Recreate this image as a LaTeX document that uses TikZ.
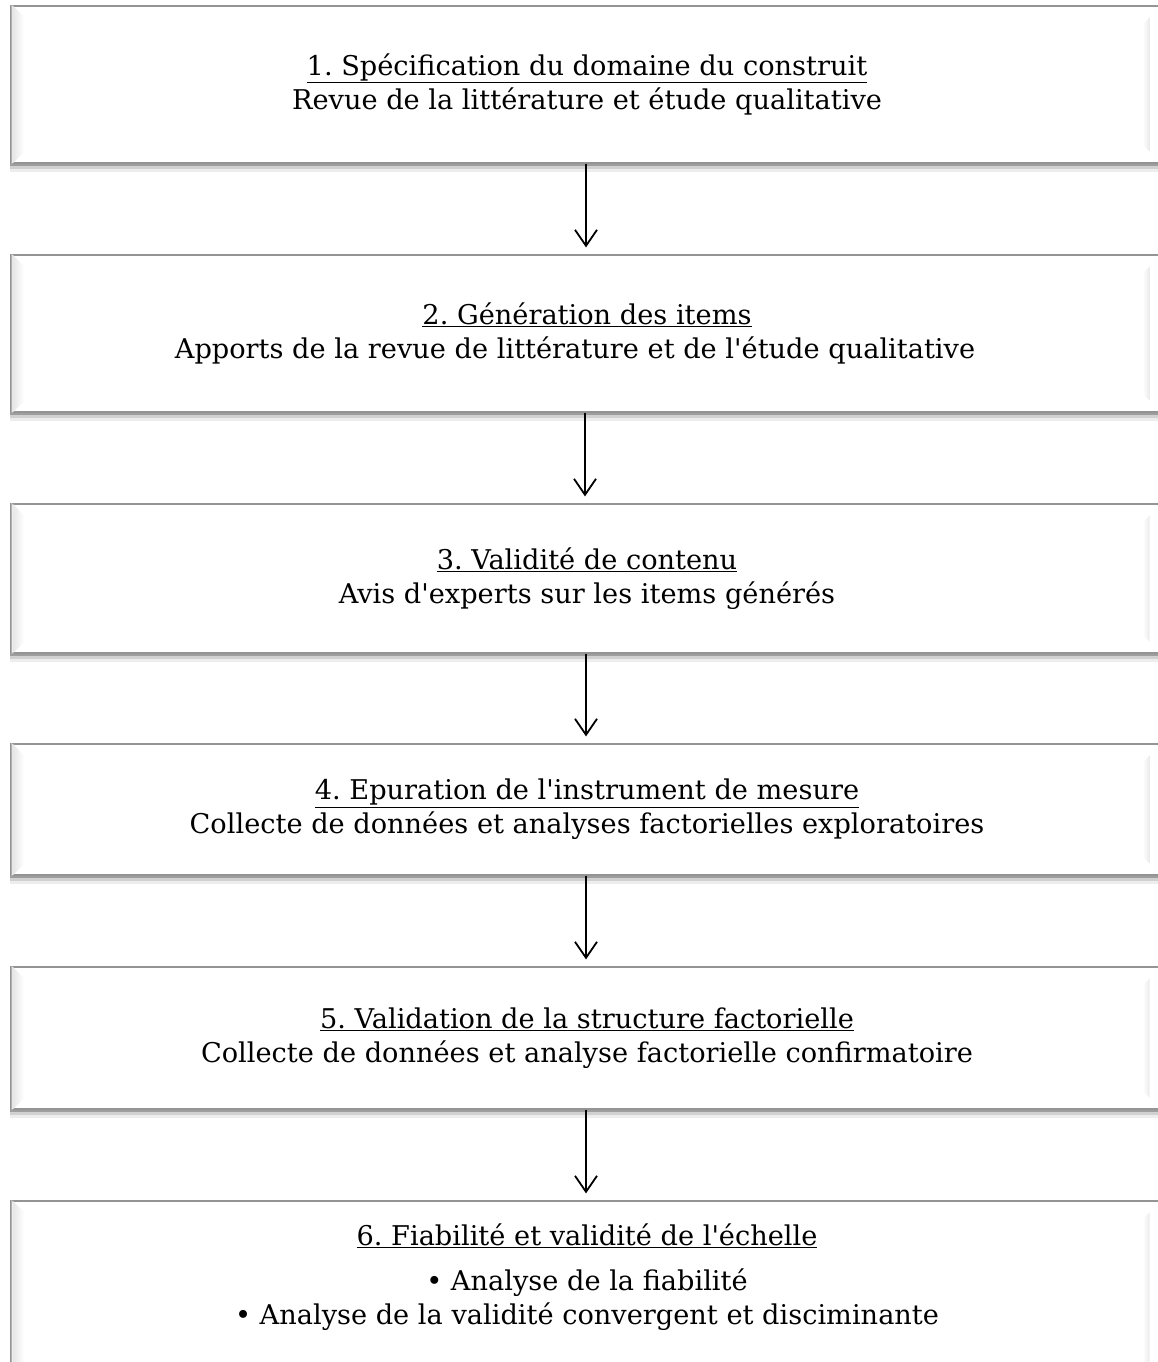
\documentclass[tikz,border=0pt]{standalone}
\usepackage{fontspec}
\setmainfont{DejaVu Serif}
\usetikzlibrary{arrows.meta}
\frenchspacing
\newcommand{\apos}{\textquotesingle}
\tikzset{
  stepbox/.style={draw=black!42, line width=1.2pt, fill=white, minimum width=1152pt,
    minimum height=#1, inner sep=0pt, align=center, font=\fontsize{27.2}{34}\selectfont},
  flow/.style={draw=black, line width=1.8pt, -{Straight Barb[length=16pt,width=22pt,line width=1.8pt]}, shorten >=7pt},
  shadowA/.style={fill=black!38},
  shadowB/.style={fill=black!18},
  shadowC/.style={fill=black!7},
}
\begin{document}
\begin{tikzpicture}[x=1pt,y=-1pt]
\useasboundingbox (0,0) rectangle (1157,1362);
\node[stepbox=157pt] (b1) at (587,84.5) {\underline{1. Spécification du domaine du construit}\\Revue de la littérature et étude qualitative};
\node[stepbox=157pt] (b2) at (587,333.5) {\underline{2. Génération des items}\\Apports de la revue de littérature et de l\apos étude qualitative\hspace*{24pt}};
\node[stepbox=149pt] (b3) at (587,578.5) {\underline{3. Validité de contenu}\\Avis d\apos experts sur les items générés};
\node[stepbox=131pt] (b4) at (587,809.5) {\underline{4. Epuration de l\apos instrument de mesure}\\Collecte de données et analyses factorielles exploratoires};
\node[stepbox=142pt] (b5) at (587,1038) {\underline{5. Validation de la structure factorielle}\\Collecte de données et analyse factorielle confirmatoire};
\node[stepbox=200pt] (b6) at (587,1301) {};
\node[align=center, font=\fontsize{27.2}{34}\selectfont, inner sep=0pt] (t6) at (587,1277)
  {\underline{6. Fiabilité et validité de l\apos échelle}\\[11pt]\textbullet\ Analyse de la fiabilité\\\textbullet\ Analyse de la validité convergent et disciminante};
\foreach \b in {b1,b2,b3,b4,b5}{
  \fill[shadowA] ([yshift=-0.6pt]\b.south west) rectangle ([yshift=-2.5pt]\b.south east);
  \fill[shadowB] ([yshift=-2.5pt]\b.south west) rectangle ([yshift=-5pt]\b.south east);
  \fill[shadowC] ([yshift=-5pt]\b.south west) rectangle ([yshift=-8pt]\b.south east);
}
\foreach \b in {b1,b2,b3,b4,b5,b6}{
  \fill[black!30] ([xshift=0.6pt]\b.north west) rectangle ([xshift=2pt]\b.south west);
  \shade[left color=black!10, right color=white]
    ([xshift=2pt]\b.north west) -- ([xshift=14pt,yshift=-12pt]\b.north west) --
    ([xshift=14pt,yshift=12pt]\b.south west) -- ([xshift=2pt]\b.south west) -- cycle;
  \shade[left color=white, right color=black!8]
    ([xshift=-21pt,yshift=-19pt]\b.north east) -- ([xshift=-14pt,yshift=-12pt]\b.north east) --
    ([xshift=-14pt,yshift=12pt]\b.south east) -- ([xshift=-21pt,yshift=19pt]\b.south east) -- cycle;
}
\draw[flow] ([xshift=-1pt]b1.south) -- ([xshift=-1pt]b2.north);
\draw[flow] ([xshift=-2pt]b2.south) -- ([xshift=-2pt]b3.north);
\draw[flow] ([xshift=-1pt]b3.south) -- ([xshift=-1pt]b4.north);
\draw[flow] ([xshift=-1pt]b4.south) -- ([xshift=-1pt]b5.north);
\draw[flow] ([xshift=-1pt]b5.south) -- ([xshift=-1pt]b6.north);
\end{tikzpicture}
\end{document}
